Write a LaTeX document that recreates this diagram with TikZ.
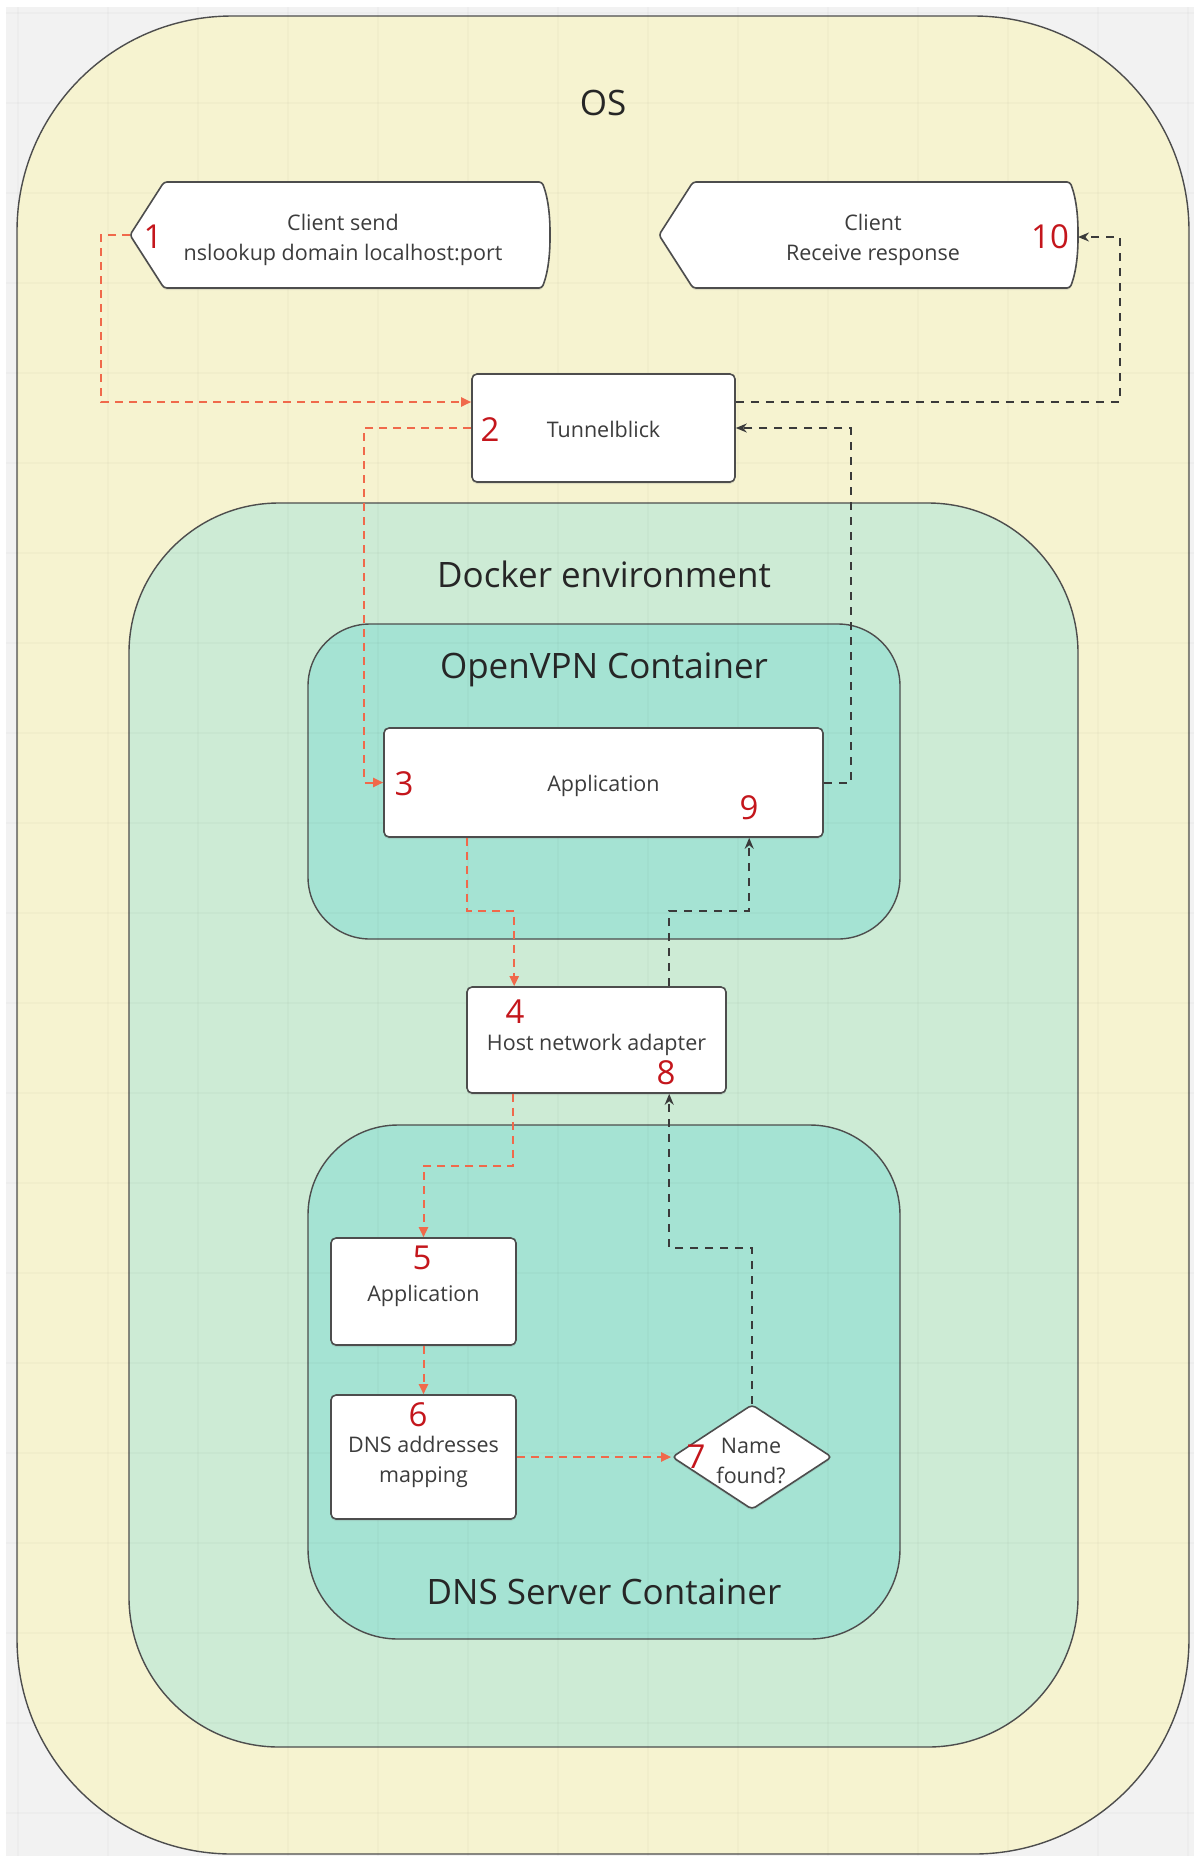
\documentclass[tikz,border=0pt]{standalone}
\usepackage{fontspec}
\setmainfont{Open Sans}
\usetikzlibrary{positioning}
\usetikzlibrary{arrows.meta}
\usetikzlibrary{shapes.geometric}
\usetikzlibrary{shadows}

\definecolor{pagegray}{HTML}{F2F2F2}
\definecolor{osfill}{HTML}{F6F3D0}
\definecolor{dockerfill}{HTML}{CDEBD5}
\definecolor{contfill}{HTML}{A5E3D3}
\definecolor{flowred}{HTML}{F0694B}
\definecolor{numred}{HTML}{C4161C}
\definecolor{flowgray}{HTML}{3A3A3A}
\definecolor{edgegray}{HTML}{4D4D4D}
\definecolor{txtgray}{HTML}{3C3C3C}

\begin{document}
\begin{tikzpicture}[x=1pt,y=-1pt,
    area/.style={draw=edgegray, line width=1.4pt},
    gridline/.style={draw=black, opacity=0.018, line width=2pt},
    box/.style={draw=edgegray, line width=1.6pt, fill=white, rounded corners=5pt, inner sep=0pt,
        drop shadow={shadow xshift=0pt, shadow yshift=-2pt, opacity=0.2}},
    tagshape/.style={draw=edgegray, line width=1.6pt, fill=white, rounded corners=3pt,
        drop shadow={shadow xshift=0pt, shadow yshift=-2pt, opacity=0.2}},
    title/.style={font=\fontsize{35}{42}\selectfont, text=black!85},
    num/.style={font=\fontsize{33}{40}\selectfont, text=numred, inner sep=0pt},
    txt/.style={align=center, text=txtgray, font=\fontsize{21.5}{30}\selectfont},
    redflow/.style={draw=flowred, line width=2pt, dash pattern=on 8pt off 6pt, -{Triangle[length=10pt,width=9pt]}},
    blackflow/.style={draw=flowgray, line width=2pt, dash pattern=on 8pt off 7pt, -{Stealth[length=11pt,width=9pt]}}]

    \useasboundingbox (0,0) rectangle (1194,1856);
    \fill[white] (0,0) rectangle (1194,1856);
    \fill[pagegray] (6,7) rectangle (1194,1856);

    % nested environments
    \draw[area, fill=osfill, rounded corners=215pt] (17,16) rectangle (1189,1854);
    \draw[area, fill=dockerfill, rounded corners=150pt] (129,503) rectangle (1078,1747);
    \draw[area, fill=contfill, rounded corners=62pt] (308,624) rectangle (900,939);
    \draw[area, fill=contfill, rounded corners=90pt] (308,1125) rectangle (900,1639);

    \foreach \gx in {18,108,...,1188}{
        \draw[gridline] (\gx,7) -- (\gx,1856);
    }
    \foreach \gy in {13,103,...,1813}{
        \draw[gridline] (6,\gy) -- (1194,\gy);
    }

    \node[title] (os) at (603,103) {OS};
    \node[title] (docker) at (604,574) {Docker environment};
    \node[title] (vpn) at (604,670) {OpenVPN Container};
    \node[title] (dns) at (604,1592) {DNS Server Container};

    % client shapes
    \path[tagshape] (130,235) -- (164,182) -- (542,182) .. controls (549,200) and (550,220) .. (550,235)
        .. controls (550,250) and (549,270) .. (542,288) -- (164,288) -- cycle;
    \path[tagshape] (659,235) -- (693,182) -- (1070,182) .. controls (1077,200) and (1078,220) .. (1078,235)
        .. controls (1078,250) and (1077,270) .. (1070,288) -- (693,288) -- cycle;
    \coordinate (sendtip) at (130,235);
    \coordinate (recvend) at (1078,237);
    \node[txt] (send) at (343,239.5) {Client send\\nslookup domain localhost:port};
    \node[txt] (recv) at (873,239.5) {Client\\Receive response};

    % boxes
    \node[box, minimum width=263, minimum height=108] (tb) at (603.5,428) {};
    \node[box, minimum width=439, minimum height=109] (app) at (603.5,782.5) {};
    \node[box, minimum width=259, minimum height=106] (host) at (596.5,1040) {};
    \node[box, minimum width=185, minimum height=107] (dnsapp) at (423.5,1291.5) {};
    \node[box, minimum width=185, minimum height=124] (map) at (423.5,1457) {};
    \node[diamond, draw=edgegray, line width=1.6pt, fill=white, rounded corners=4pt, inner sep=0pt,
        minimum width=160, minimum height=105,
        drop shadow={shadow xshift=0pt, shadow yshift=-2pt, opacity=0.2}] (found) at (752,1457) {};

    \node[txt] (tbtxt) at ([yshift=-1pt]tb) {Tunnelblick};
    \node[txt] (apptxt) at ([yshift=-3pt]app) {Application};
    \node[txt] (hosttxt) at ([yshift=-5pt]host) {Host network adapter};
    \node[txt] (dnsapptxt) at ([yshift=-4pt]dnsapp) {Application};
    \node[txt] (maptxt) at ([yshift=-5pt]map) {DNS addresses\\mapping};
    \node[txt] (foundtxt) at (751,1461) {Name\\found?};

    % request path
    \draw[redflow] (sendtip) -- (101,235) |- ([yshift=26pt]tb.west);
    \draw[redflow] (tb.west) -| ([xshift=-19pt]app.west) -- (app.west);
    \draw[redflow] ([xshift=84pt]app.south west) -- ++(0,73) -| ([xshift=48pt]host.north west);
    \draw[redflow] ([xshift=47pt]host.south west) -- ++(0,72) -| (dnsapp.north);
    \draw[redflow] (dnsapp.south) -- (map.north);
    \draw[redflow] (map.east) -- (found.west);

    % response path
    \draw[blackflow] (found.north) -- ++(0,-156) -| ([xshift=203pt]host.south west);
    \draw[blackflow] ([xshift=203pt]host.north west) -- ++(0,-75) -| ([xshift=366pt]app.south west);
    \draw[blackflow] (app.east) -- ++(27,0) |- (tb.east);
    \draw[blackflow] ([yshift=26pt]tb.east) -| ([xshift=42pt]recvend) -- (recvend);

    % step numbers
    \node[num] (n1) at (153,237) {1};
    \node[num] (n2) at (490,430) {2};
    \node[num] (n3) at (404,784) {3};
    \node[num] (n4) at (515,1012) {4};
    \node[num] (n5) at (422,1258) {5};
    \node[num] (n6) at (418,1415) {6};
    \node[num] (n7) at (696,1457) {7};
    \node[num] (n8) at (666,1073) {8};
    \node[num] (n9) at (749,808) {9};
    \node[num] (n10) at (1050,237) {10};
\end{tikzpicture}
\end{document}
